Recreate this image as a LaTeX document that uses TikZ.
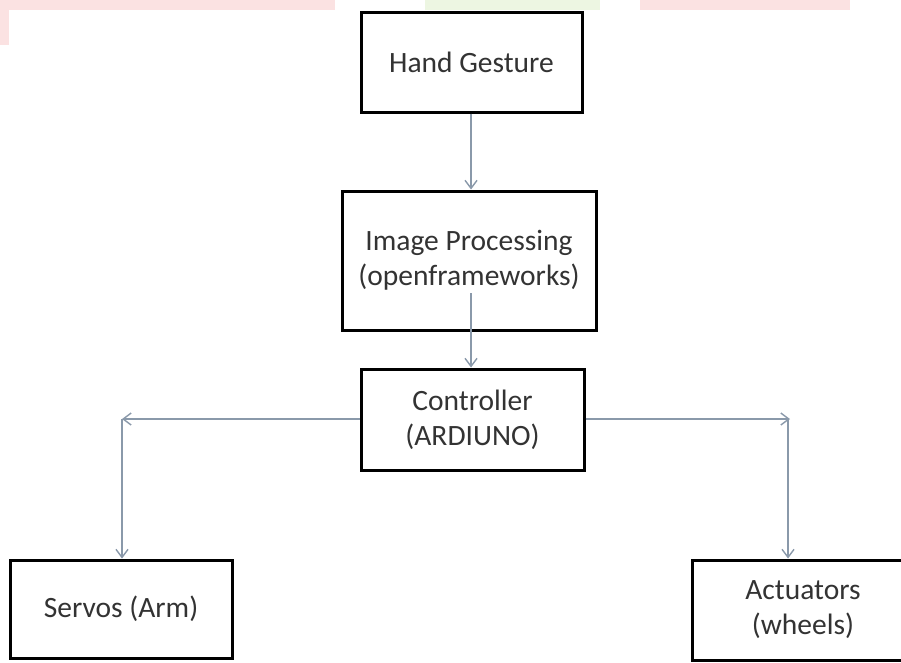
\documentclass[tikz,border=0pt]{standalone}
\usepackage{fontspec}
\setmainfont{Carlito}
\usetikzlibrary{arrows.meta}
\definecolor{arrowc}{HTML}{8A99AA}
\definecolor{textc}{HTML}{333333}
\definecolor{wmpink}{HTML}{FBE2E2}
\definecolor{wmgreen}{HTML}{EDF6E2}
\tikzset{
  blk/.style={draw=black, line width=3pt, fill=white, text=textc, align=center,
    font=\fontsize{29.5}{35}\selectfont, inner sep=0pt},
  conn/.style={draw=arrowc, line width=1.4pt, -{Straight Barb[length=8pt,width=12pt]}}
}
\begin{document}
\begin{tikzpicture}[x=1pt,y=-1pt]
\useasboundingbox (0,0) rectangle (901,662);
\clip (0,0) rectangle (901,662);
\fill[white] (0,0) rectangle (901,662);
% faint watermark band at the top
\fill[wmpink] (0,0) rectangle (335,10);
\fill[wmpink] (0,0) rectangle (9,45);
\fill[wmgreen] (425,0) rectangle (600,10);
\fill[wmpink] (640,0) rectangle (850,10);

\node[blk, minimum width=221pt, minimum height=100pt] (hand) at (471.5,62) {Hand Gesture};
\node[blk, minimum width=254pt, minimum height=139pt] (img) at (469,260.5) {Image Processing\\(openframeworks)};
\node[blk, minimum width=223pt, minimum height=101pt] (ctrl) at (472.5,419.5) {Controller\\(ARDIUNO)};
\node[blk, minimum width=222pt, minimum height=98pt] (servo) at (121,609) {Servos (Arm)};
\node[blk, minimum width=222pt, minimum height=100pt] (act) at (803,610) {Actuators\\(wheels)};

\coordinate (imgout) at (471,293);
\coordinate (lc) at (122,419);
\coordinate (rc) at (790,419);
\coordinate (rd) at (788,419);

\draw[conn] (hand.south -| imgout) -- (img.north -| imgout);
\draw[conn] (imgout) -- (ctrl.north -| imgout);
\draw[conn] (ctrl.west |- lc) -- (lc);
\draw[conn] (lc) -- (servo.north -| lc);
\draw[conn] (ctrl.east |- rc) -- (rc);
\draw[conn] (rd) -- (act.north -| rd);
\end{tikzpicture}
\end{document}
